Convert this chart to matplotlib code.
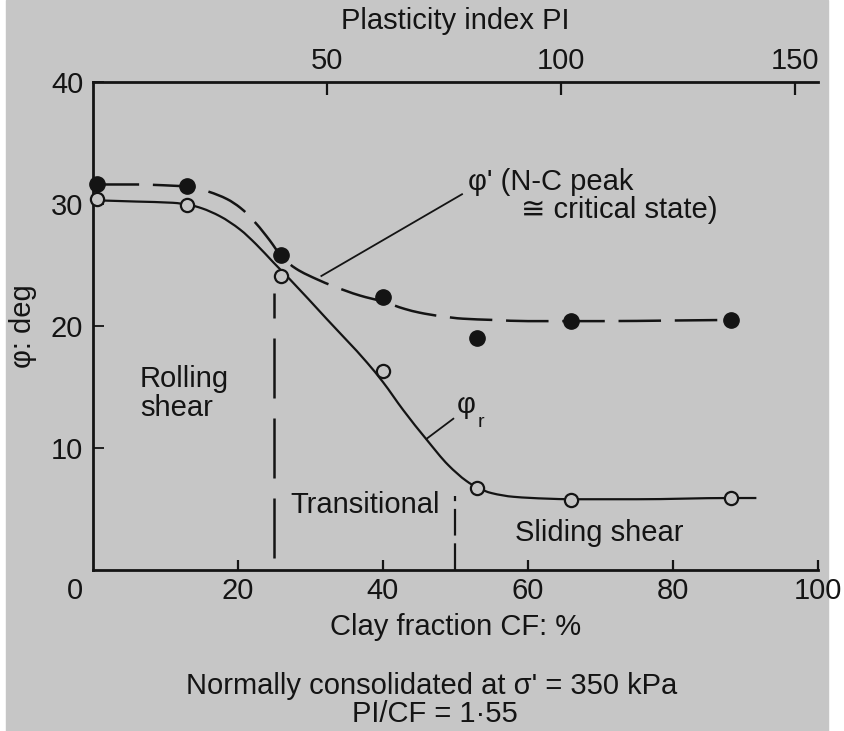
import numpy as np
import matplotlib
matplotlib.use("Agg")
import matplotlib.pyplot as plt
from matplotlib.path import Path
from matplotlib.patches import PathPatch, Rectangle

plt.rcParams['font.family'] = ['Liberation Sans', 'DejaVu Sans']

# ---- measured points -------------------------------------------------------
clay_fraction = [0.5, 13, 26, 40, 53, 66, 88]          # CF, %
phi_peak = [31.6, 31.5, 25.8, 22.4, 19.0, 20.4, 20.5]  # phi' (N-C peak), deg
phi_residual = [30.4, 29.9, 24.1, 16.3, 6.7, 5.7, 5.9] # phi_r, deg

# ---- hand-drawn trend curves (traced knots) --------------------------------
peak_curve_cf = [0.5, 6, 11, 13.5, 16, 18.5, 20.3, 22.5, 24.4, 26, 28, 31, 33,
                 36.8, 40, 43, 45, 48, 51, 55, 60, 70, 80, 88.3]
peak_curve_phi = [31.6, 31.6, 31.5, 31.4, 31.0, 30.4, 29.7, 28.4, 27.0, 25.7,
                  24.7, 23.8, 23.3, 22.5, 22.0, 21.4, 21.1, 20.8, 20.6, 20.5,
                  20.4, 20.4, 20.45, 20.5]

resid_curve_cf = [0.5, 6, 11, 13.5, 15, 17.5, 20.3, 22.5, 24.9, 27.2, 32.2, 37.8,
                  40, 42.8, 46, 49, 51.5, 53, 55, 58, 62.6, 66, 75, 88, 91.5]
resid_curve_phi = [30.3, 30.2, 30.1, 29.9, 29.65, 29.0, 27.9, 26.7, 25.2, 23.8,
                   20.6, 17.0, 15.4, 13.1, 10.7, 8.6, 7.3, 6.75, 6.3, 6.0, 5.85,
                   5.8, 5.8, 5.9, 5.9]

# zone boundaries (CF, %) and their vertical extents (deg)
zone_bounds = [25, 50]
zone_tops = [22.7, 6.1]
zone_bottoms = [1.0, 0.0]

x_ticks = [20, 40, 60, 80, 100]
y_ticks = [10, 20, 30, 40]
pi_ticks = [50, 100, 150]
PI_PER_CF = 1.55

BG = '#c6c6c6'
INK = '#141414'
FS = 21


def smooth_path(xk, yk):
    """Monotone cubic (PCHIP-style) Bezier path through the knots."""
    x = np.asarray(xk, float)
    y = np.asarray(yk, float)
    h = np.diff(x)
    d = np.diff(y) / h
    m = np.zeros_like(y)
    m[0], m[-1] = d[0], d[-1]
    for k in range(1, len(x) - 1):
        if d[k - 1] * d[k] <= 0:
            m[k] = 0.0
        else:
            w1 = 2 * h[k] + h[k - 1]
            w2 = h[k] + 2 * h[k - 1]
            m[k] = (w1 + w2) / (w1 / d[k - 1] + w2 / d[k])
    verts = [(x[0], y[0])]
    codes = [Path.MOVETO]
    for k in range(len(x) - 1):
        verts += [(x[k] + h[k] / 3, y[k] + m[k] * h[k] / 3),
                  (x[k + 1] - h[k] / 3, y[k + 1] - m[k + 1] * h[k] / 3),
                  (x[k + 1], y[k + 1])]
        codes += [Path.CURVE4] * 3
    return Path(verts, codes)


fig = plt.figure(figsize=(8.45, 7.31), dpi=100)
fig.patch.set_facecolor('white')
fig.add_artist(Rectangle((6 / 845, 0), (828 - 6) / 845, 1,
                         transform=fig.transFigure, color=BG, zorder=-10))

ax = fig.add_axes([93 / 845, 1 - 570 / 731, (818 - 93) / 845, (570 - 82) / 731])
ax.set_facecolor('none')
ax.set_xlim(0, 100)
ax.set_ylim(0, 40)

# trend curves
ax.add_patch(PathPatch(smooth_path(peak_curve_cf, peak_curve_phi), fill=False,
                       edgecolor=INK, lw=1.8, linestyle=(0, (17, 5.5)),
                       capstyle='butt', zorder=3))
ax.add_patch(PathPatch(smooth_path(resid_curve_cf, resid_curve_phi), fill=False,
                       edgecolor=INK, lw=1.6, zorder=3))

# data points
ax.plot(clay_fraction, phi_peak, 'o', ms=11, mfc=INK, mec=INK, zorder=5,
        clip_on=False)
ax.plot(clay_fraction, phi_residual, 'o', ms=9.5, mfc=BG, mec=INK, mew=1.6,
        zorder=5, clip_on=False)

# zone boundaries
ax.vlines(zone_bounds[0], zone_bottoms[0], zone_tops[0], colors=INK, lw=1.8,
          linestyles=[(0, (24, 8))], zorder=2)
ax.vlines(zone_bounds[1], zone_bottoms[1], zone_tops[1], colors=INK, lw=1.6,
          linestyles=[(0, (12, 3.5))], zorder=2)

# zone labels
ax.text(6.5, 14.5, 'Rolling\nshear', fontsize=FS, color=INK, ha='left',
        va='center', linespacing=1.05)
ax.text(27.2, 5.3, 'Transitional', fontsize=FS, color=INK, ha='left', va='center')
ax.text(58.2, 3.0, 'Sliding shear', fontsize=FS, color=INK, ha='left', va='center')

# curve labels with leader lines
ax.plot([31.5, 50.9], [24.1, 30.8], color=INK, lw=1.3, zorder=3)
ax.text(51.7, 31.8, "φ' (N-C peak", fontsize=FS, color=INK, ha='left', va='center')
ax.text(59.0, 29.5, "≅ critical state)", fontsize=FS, color=INK, ha='left',
        va='center')
ax.plot([46.0, 49.7], [10.75, 12.4], color=INK, lw=1.3, zorder=3)
ax.text(51.5, 13.5, 'φ', fontsize=FS, color=INK, ha='center', va='center')
ax.text(53.5, 12.1, 'r', fontsize=FS - 7, color=INK, ha='center', va='center')

# axes styling
for side in ('left', 'bottom', 'top'):
    ax.spines[side].set_linewidth(2.0)
    ax.spines[side].set_color(INK)
ax.spines['right'].set_visible(False)

ax.set_xticks(x_ticks)
ax.set_yticks(y_ticks)
ax.tick_params(axis='x', direction='in', length=7, width=1.6, pad=5,
               labelsize=FS, colors=INK)
ax.tick_params(axis='y', direction='in', length=8, width=1.3, pad=7,
               labelsize=FS, colors=INK)
ax.annotate('0', xy=(0, 0), xytext=(-13, -5), textcoords='offset points',
            ha='center', va='top', fontsize=FS, color=INK)

ax.set_xlabel('Clay fraction CF: %', fontsize=FS, color=INK, labelpad=6)
ax.set_ylabel('φ: deg', fontsize=FS, color=INK, labelpad=10)

top = ax.secondary_xaxis('top', functions=(lambda c: c * PI_PER_CF,
                                           lambda p: p / PI_PER_CF))
top.spines['top'].set_visible(False)
top.set_xticks(pi_ticks)
top.tick_params(axis='x', direction='in', length=9, width=1.6, pad=5,
                labelsize=FS, colors=INK)
top.set_xlabel('Plasticity index PI', fontsize=FS, color=INK, labelpad=13)

fig.text(432 / 845, 1 - 686 / 731, "Normally consolidated at σ' = 350 kPa",
         fontsize=FS, color=INK, ha='center', va='center')
fig.text(435 / 845, 1 - 714 / 731, 'PI/CF = 1·55', fontsize=FS, color=INK,
         ha='center', va='center')

fig.savefig('out.png', dpi=100, facecolor=fig.get_facecolor())
